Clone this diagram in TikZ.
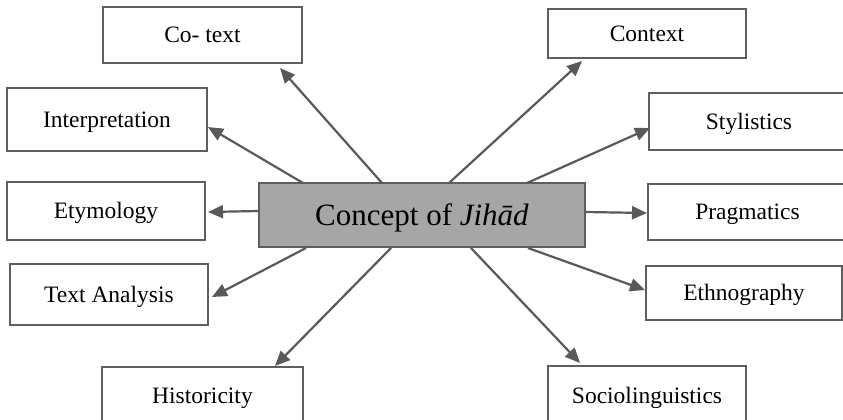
\documentclass[tikz,border=0pt]{standalone}
\usepackage{fontspec}
\setmainfont{Liberation Serif}
\usetikzlibrary{arrows.meta}
\definecolor{edgec}{HTML}{5E5E5E}
\definecolor{arrowc}{HTML}{595959}
\definecolor{cfill}{HTML}{A6A6A6}
\begin{document}
\begin{tikzpicture}[x=1pt,y=-1pt,
  box/.style={draw=edgec, line width=1.4pt, fill=white, inner sep=0pt,
    font=\fontsize{23.5}{28}\selectfont, text height=15.5pt, text depth=0pt},
  cbox/.style={draw=edgec, line width=1.4pt, fill=cfill, inner sep=0pt,
    font=\fontsize{31}{37}\selectfont, text height=20.5pt, text depth=0pt},
  conn/.style={draw=arrowc, line width=2.2pt, -{Triangle[length=15pt,width=13pt]}}]
\useasboundingbox (0,0) rectangle (843,420);

% nodes
\node[box, minimum width=199pt, minimum height=56pt] (cotext) at (202.5,35) {Co- text};
\node[box, minimum width=198pt, minimum height=49pt] (context) at (647,33.5) {Context};
\node[box, minimum width=200pt, minimum height=63pt] (interp) at (107,119.5) {Interpretation};
\node[box, minimum width=198pt, minimum height=58pt] (etym) at (106,211) {Etymology};
\node[box, minimum width=198pt, minimum height=61pt] (textan) at (109,294.5) {Text Analysis};
\node[box, minimum width=201pt, minimum height=58pt] (hist) at (202.5,396) {Historicity};
\node[box, minimum width=200pt, minimum height=57pt] (stylis) at (749,121.5) {Stylistics};
\node[box, minimum width=199pt, minimum height=56pt] (prag) at (747.5,212) {Pragmatics};
\node[box, minimum width=196pt, minimum height=54pt] (ethno) at (744,293) {Ethnography};
\node[box, minimum width=198pt, minimum height=59pt] (socio) at (647,395.5) {Sociolinguistics};
\node[cbox, minimum width=326pt, minimum height=64pt] (cen) at (422,215) {Concept of \textit{Jihād}};

% connector end points
\coordinate (s1) at (382,183);  \coordinate (t1) at (280,68);
\coordinate (s2) at (303,183);  \coordinate (t2) at (208,127);
\coordinate (s3) at (259,211);  \coordinate (t3) at (208,212);
\coordinate (s4) at (306,248);  \coordinate (t4) at (212,297);
\coordinate (s5) at (391,248);  \coordinate (t5) at (275,366);
\coordinate (s6) at (471,248);  \coordinate (t6) at (580,363);
\coordinate (s7) at (528,248);  \coordinate (t7) at (645,290);
\coordinate (s8) at (585,212);  \coordinate (t8) at (647,213);
\coordinate (s9) at (527,183);  \coordinate (t9) at (650,128);
\coordinate (s10) at (449,183); \coordinate (t10) at (582,61);

% connectors
\draw[conn] (s1) -- (t1);
\draw[conn] (s2) -- (t2);
\draw[conn] (s3) -- (t3);
\draw[conn] (s4) -- (t4);
\draw[conn] (s5) -- (t5);
\draw[conn] (s6) -- (t6);
\draw[conn] (s7) -- (t7);
\draw[conn] (s8) -- (t8);
\draw[conn] (s9) -- (t9);
\draw[conn] (s10) -- (t10);
\end{tikzpicture}
\end{document}
